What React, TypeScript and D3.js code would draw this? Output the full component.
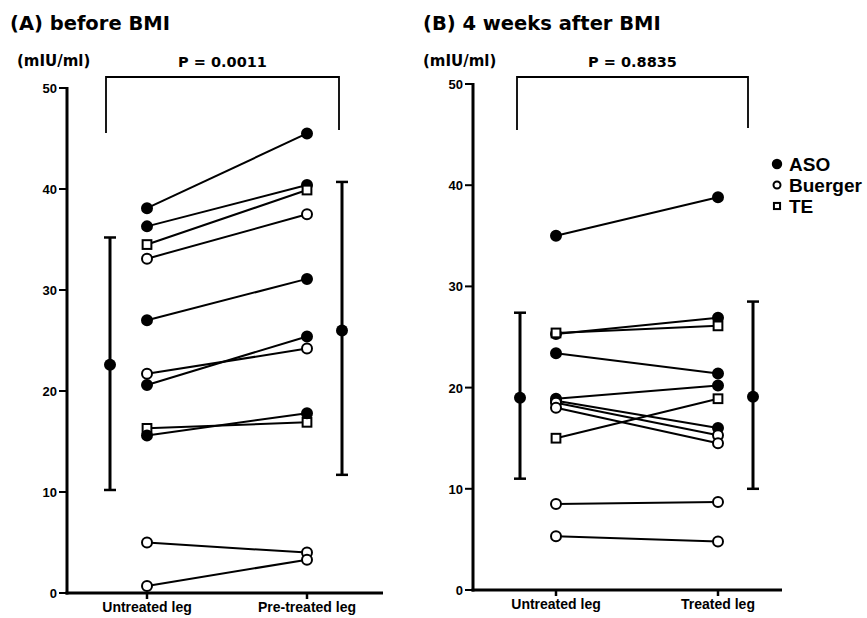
import React from "react";
import * as d3 from "d3";

// ---------- data ----------
const yTicks = [0, 10, 20, 30, 40, 50];
const catsA = ["Untreated leg", "Pre-treated leg"];
const catsB = ["Untreated leg", "Treated leg"];
const typesA = ["ASO", "ASO", "TE", "Buerger", "ASO", "Buerger", "ASO", "TE", "ASO", "Buerger", "Buerger"];
const untreatedA = [38.1, 36.3, 34.5, 33.1, 27.0, 21.7, 20.6, 16.3, 15.6, 5.0, 0.7];
const pretreatedA = [45.5, 40.4, 39.9, 37.5, 31.1, 24.2, 25.4, 16.9, 17.8, 4.0, 3.3];
const meanA = [22.6, 26.0];
const sdLowA = [10.2, 11.7];
const sdHighA = [35.2, 40.7];
const pA = "P = 0.0011";

const typesB = ["ASO", "ASO", "TE", "ASO", "ASO", "ASO", "Buerger", "Buerger", "TE", "Buerger", "Buerger"];
const untreatedB = [35.0, 25.3, 25.4, 23.4, 18.9, 18.7, 18.5, 18.0, 15.0, 8.5, 5.3];
const treatedB = [38.8, 26.9, 26.1, 21.4, 20.2, 16.0, 15.3, 14.5, 18.9, 8.7, 4.8];
const meanB = [19.0, 19.1];
const sdLowB = [11.0, 10.0];
const sdHighB = [27.4, 28.5];
const pB = "P = 0.8835";

const legendTypes = ["ASO", "Buerger", "TE"];

const FONT = "'Liberation Sans', Arial, sans-serif";
const WIDE = "'DejaVu Sans', sans-serif";

function Marker({ type, x, y, r = 5 }: { type: string; x: number; y: number; r?: number }) {
  if (type === "TE") {
    const s = r * 1.75;
    return <rect x={x - s / 2} y={y - s / 2} width={s} height={s} fill="#fff" stroke="#000" strokeWidth={2} />;
  }
  return <circle cx={x} cy={y} r={r} fill={type === "ASO" ? "#000" : "#fff"} stroke="#000" strokeWidth={2} />;
}

type PanelProps = {
  title: string;
  titleX: number;
  cats: string[];
  types: string[];
  before: number[];
  after: number[];
  mean: number[];
  lo: number[];
  hi: number[];
  p: string;
  axisX: number;
  yTop: number;
  yBottom: number;
  axisRight: number;
  ptRange: [number, number];
  sumRange: [number, number];
  bracket: [number, number, number, number, number];
  order: number[];
};

function Panel(props: PanelProps) {
  const { cats, types, before, after, mean, lo, hi, axisX, yTop, yBottom, axisRight, ptRange, sumRange, bracket, order } = props;
  const y = d3.scaleLinear().domain([0, 50]).range([yBottom, yTop]);
  const xp = d3.scalePoint<string>().domain(cats).range(ptRange);
  const xs = d3.scalePoint<string>().domain(cats).range(sumRange);
  const [bl, br, bt, bld, brd] = bracket;
  const x0 = xp(cats[0])!;
  const x1 = xp(cats[1])!;
  return (
    <g>
      <text x={props.titleX} y={30} fontFamily={WIDE} fontWeight="bold" fontSize={19.5}>
        {props.title}
      </text>
      {/* bracket */}
      <path d={`M${bl},${bld}V${bt}H${br}V${brd}`} fill="none" stroke="#000" strokeWidth={1.8} />
      <text x={(bl + br) / 2} y={bt - 10} textAnchor="middle" fontFamily={WIDE} fontWeight="bold" fontSize={14.5}>
        {props.p}
      </text>
      <text x={axisX - 50} y={bt - 11} fontFamily={WIDE} fontWeight="bold" fontSize={15}>
        (mIU/ml)
      </text>
      {/* axes */}
      <line x1={axisX} x2={axisX} y1={yTop - 1} y2={yBottom + 1.5} stroke="#000" strokeWidth={3} />
      <line x1={axisX - 1.5} x2={axisRight} y1={yBottom} y2={yBottom} stroke="#000" strokeWidth={3} />
      {yTicks.map((t) => (
        <g key={t}>
          <line x1={axisX - 8} x2={axisX} y1={y(t)} y2={y(t)} stroke="#000" strokeWidth={2} />
          <text x={axisX - 10} y={y(t) + 5} textAnchor="end" fontFamily={FONT} fontWeight="bold" fontSize={13}>
            {t}
          </text>
        </g>
      ))}
      {cats.map((c) => (
        <g key={c}>
          <line x1={xp(c)} x2={xp(c)} y1={yBottom} y2={yBottom + 6} stroke="#000" strokeWidth={2.5} />
          <text x={xp(c)} y={yBottom + 19} textAnchor="middle" fontFamily={FONT} fontWeight="bold" fontSize={14}>
            {c}
          </text>
        </g>
      ))}
      {/* summary error bars */}
      {cats.map((c, i) => {
        const cx = xs(c)!;
        return (
          <g key={"s" + c}>
            <line x1={cx} x2={cx} y1={y(hi[i])} y2={y(lo[i])} stroke="#000" strokeWidth={3} />
            <line x1={cx - 6} x2={cx + 6} y1={y(hi[i])} y2={y(hi[i])} stroke="#000" strokeWidth={2.5} />
            <line x1={cx - 6} x2={cx + 6} y1={y(lo[i])} y2={y(lo[i])} stroke="#000" strokeWidth={2.5} />
            <circle cx={cx} cy={y(mean[i])} r={6} fill="#000" />
          </g>
        );
      })}
      {/* subject lines */}
      {order.map((i) => (
        <line key={"l" + i} x1={x0} x2={x1} y1={y(before[i])} y2={y(after[i])} stroke="#000" strokeWidth={2} />
      ))}
      {order.map((i) => (
        <g key={"m" + i}>
          <Marker type={types[i]} x={x0} y={y(before[i])} />
          <Marker type={types[i]} x={x1} y={y(after[i])} />
        </g>
      ))}
    </g>
  );
}

export default function App() {
  const orderA = d3.range(untreatedA.length);
  const orderB = [0, 1, 3, 4, 5, 2, 6, 7, 8, 9, 10];
  return (
    <svg width={867} height={618} style={{ position: "absolute", left: 0, top: 0, background: "#fff" }}>
      <rect width={867} height={618} fill="#fff" />
      <Panel
        title="(A) before BMI"
        titleX={10}
        cats={catsA}
        types={typesA}
        before={untreatedA}
        after={pretreatedA}
        mean={meanA}
        lo={sdLowA}
        hi={sdHighA}
        p={pA}
        axisX={67}
        yTop={88}
        yBottom={593}
        axisRight={383}
        ptRange={[147, 307]}
        sumRange={[110, 342]}
        bracket={[106, 339, 77, 133, 130]}
        order={orderA}
      />
      <Panel
        title="(B) 4 weeks after BMI"
        titleX={423}
        cats={catsB}
        types={typesB}
        before={untreatedB}
        after={treatedB}
        mean={meanB}
        lo={sdLowB}
        hi={sdHighB}
        p={pB}
        axisX={473}
        yTop={84}
        yBottom={590}
        axisRight={782}
        ptRange={[556, 718]}
        sumRange={[520, 753]}
        bracket={[517, 748, 77, 130, 128]}
        order={orderB}
      />
      {legendTypes.map((t, i) => (
        <g key={t}>
          <Marker type={t} x={777} y={164 + i * 21} r={t === "ASO" ? 4.2 : 3.5} />
          <text x={789} y={171 + i * 21} fontFamily={FONT} fontWeight="bold" fontSize={19}>
            {t}
          </text>
        </g>
      ))}
    </svg>
  );
}
